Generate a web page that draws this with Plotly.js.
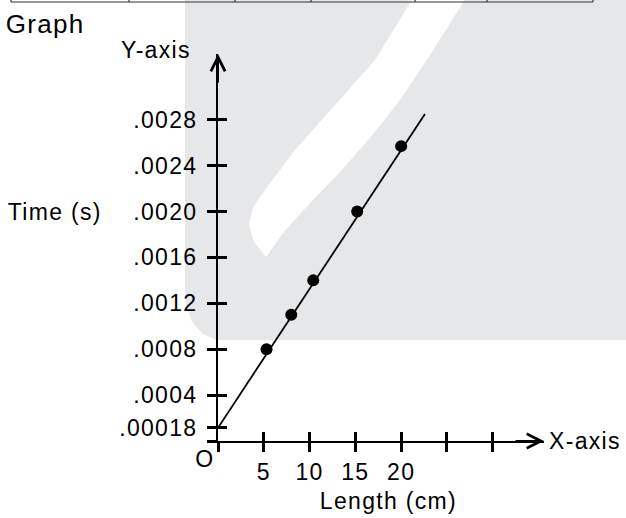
<!DOCTYPE html>
<html><head><meta charset="utf-8">
<script src="https://cdn.plot.ly/plotly-3.0.1.min.js"></script>
<style>
html,body{margin:0;padding:0;background:#fff;}
#chart{width:626px;height:518px;}
#chart text{letter-spacing:1.3px;}
</style></head><body><div id="chart"></div>
<script>
// ---- data ----
const lengthCm = [5.3, 8.0, 10.4, 15.2, 20.0];
const timeS = [0.0008, 0.0011, 0.0014, 0.0020, 0.00257];
const fitLength = [0, 22.6];
const fitTime = [0.000115, 0.00285];
const xTickVals = [0, 5, 10, 15, 20, 25, 30];
const xTickText = ['', '5', '10', '15', '20', '', ''];
const yTickVals = [0, 0.000115, 0.0004, 0.0008, 0.0012, 0.0016, 0.0020, 0.0024, 0.0028];
const yTickText = ['', '.00018', '.0004', '.0008', '.0012', '.0016', '.0020', '.0024', '.0028'];
const xRange = [0, 35.6];
const yRange = [0, 0.003373];

// ---- layout helpers ----
const W = 626, H = 518, M = {l: 218, r: 82, t: 54, b: 77, pad: 0};
const PW = W - M.l - M.r, PH = H - M.t - M.b;
const px = v => (v - M.l) / PW;
const py = v => (H - M.b - v) / PH;
const pathOf = pts => 'M' + pts.map(p => px(p[0]).toFixed(5) + ',' + py(p[1]).toFixed(5)).join(' L') + ' Z';

const FONT = 'Liberation Sans, Arial, Helvetica, sans-serif';
const FS = 23;
const grayBlob = [[185,-2],[628,-2],[628,340],[217,340],[203,334],[192,322],[186,305],[185,290]];
const whiteStripe = [[413,-2],[375,60],[335,105],[295,150],[265,190],[253,207],[249,225],[254,242],[266,257],
                     [283,233],[310,203],[340,172],[370,138],[400,100],[430,55],[466,-2]];
const tableX = [11,129,235,311,415,487,593];

const shapes = [
  {type:'path', xref:'paper', yref:'paper', path: pathOf(grayBlob), fillcolor:'#e6e7e8', line:{width:0}, layer:'below'},
  {type:'path', xref:'paper', yref:'paper', path: pathOf(whiteStripe), fillcolor:'#ffffff', line:{width:0}, layer:'below'},
  {type:'line', xref:'paper', yref:'paper', x0:px(11), x1:px(593), y0:py(2), y1:py(2), line:{color:'#333', width:1.2}}
];
tableX.forEach(x => shapes.push({type:'line', xref:'paper', yref:'paper', x0:px(x), x1:px(x), y0:py(-2), y1:py(2), line:{color:'#333', width:1.2}}));

const txt = (text, x, y, xanchor, size) => ({text, xref:'paper', yref:'paper', x:px(x), y:py(y), xanchor, yanchor:'middle',
  showarrow:false, font:{family:FONT, size:size||FS, color:'#000'}});

const annotations = [
  txt('Graph', 7, 24, 'left', 26),
  txt('Y-axis', 123, 50, 'left'),
  txt('Time (s)', 11, 212, 'left'),
  txt('O', 205, 459, 'center'),
  txt('Length (cm)', 388, 501, 'center'),
  txt('X-axis', 551, 441, 'left'),
  {text:'', xref:'paper', yref:'paper', x:0, y:1, ax:0, ay:30, showarrow:true, arrowhead:5, arrowsize:1.4, arrowwidth:2, arrowcolor:'#000'},
  {text:'', xref:'paper', yref:'paper', x:1, y:0, ax:-30, ay:0, showarrow:true, arrowhead:5, arrowsize:1.4, arrowwidth:2, arrowcolor:'#000'}
];

const baseAxis = {showgrid:false, zeroline:false, fixedrange:true, tickmode:'array', tickcolor:'#000', tickwidth:3, ticklen:9};

const layout = {
  width: W, height: H, margin: M, showlegend:false,
  paper_bgcolor:'#fff', plot_bgcolor:'rgba(0,0,0,0)',
  font:{family:FONT, size:FS, color:'#000'},
  xaxis: Object.assign({}, baseAxis, {range:xRange, tickvals:xTickVals, ticktext:xTickText, ticks:'outside',
    showline:true, linecolor:'#000', linewidth:2, tickfont:{family:FONT, size:FS, color:'#000'}, ticklabelstandoff:0}),
  yaxis: Object.assign({}, baseAxis, {range:yRange, tickvals:yTickVals, ticktext:yTickText, ticks:'outside',
    showline:true, linecolor:'#000', linewidth:2, tickfont:{family:FONT, size:FS, color:'#000'}, ticklabelstandoff:5}),
  xaxis2: Object.assign({}, baseAxis, {range:xRange, tickvals:xTickVals, overlaying:'x', anchor:'y', side:'bottom', ticks:'inside', showticklabels:false, showline:false}),
  yaxis2: Object.assign({}, baseAxis, {range:yRange, tickvals:yTickVals, overlaying:'y', anchor:'x', side:'left', ticks:'inside', showticklabels:false, showline:false}),
  shapes, annotations
};

const data = [
  {type:'scatter', mode:'lines', x:fitLength, y:fitTime, line:{color:'#000', width:1.8}, hoverinfo:'skip', cliponaxis:false},
  {type:'scatter', mode:'markers', x:lengthCm, y:timeS, marker:{color:'#000', size:12}, cliponaxis:false},
  {type:'scatter', mode:'markers', x:[], y:[], xaxis:'x2', yaxis:'y2', hoverinfo:'skip'}
];

Plotly.newPlot('chart', data, layout, {staticPlot:true, displayModeBar:false});
</script></body></html>
